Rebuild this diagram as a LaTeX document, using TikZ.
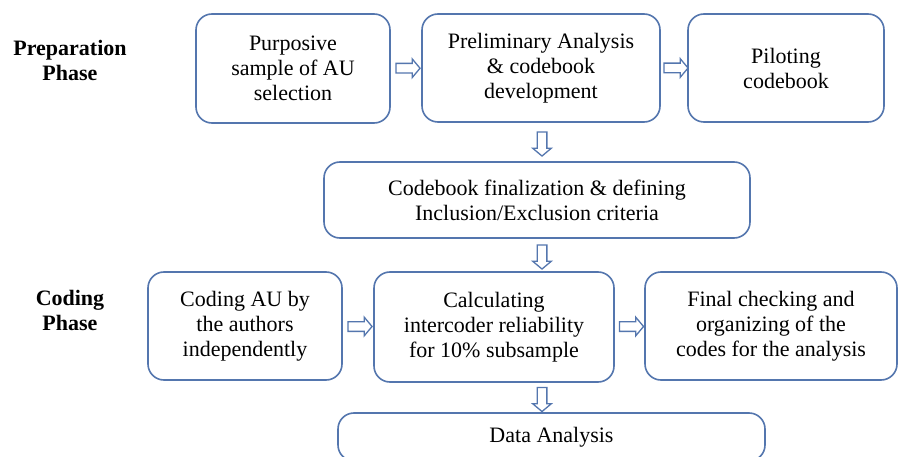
\documentclass[tikz,border=0pt]{standalone}
\usepackage{fontspec}
\setmainfont{Liberation Serif}
\usetikzlibrary{shapes.arrows,calc}
\definecolor{bordblue}{HTML}{5476AE}
\begin{document}
\begin{tikzpicture}[x=1pt,y=-1pt,
  box/.style={draw=bordblue, line width=1.6pt, rounded corners=16pt, align=center,
    font=\fontsize{22}{25}\selectfont, inner sep=0pt, fill=white},
  phase/.style={align=center, font=\fontsize{22}{25}\selectfont\bfseries, inner sep=0pt},
  flowarrow/.style={single arrow, draw=bordblue, line width=1.3pt, fill=white,
    minimum height=24pt, inner sep=4.2pt, single arrow head extend=4.5pt,
    single arrow tip angle=100},
  rightarrow/.style={flowarrow, shape border rotate=0},
  downarrow/.style={flowarrow, shape border rotate=270}]
\useasboundingbox (0,0) rectangle (899,457);
\clip (0,0) rectangle (899,457);
\fill[white] (0,0) rectangle (899,457);

\node[phase] (prep) at (70,60) {Preparation\\Phase};
\node[phase] (codph) at (70,310) {Coding\\Phase};

\node[box, minimum width=194pt, minimum height=109pt] (b1) at (293,68.5) {Purposive\\sample of AU\\selection};
\node[box, minimum width=238pt, minimum height=108pt] (b2) at (541,68) {Preliminary Analysis\\\& codebook\\development};
\node[box, minimum width=196pt, minimum height=108pt] (b3) at (786,68) {Piloting\\codebook};
\node[box, minimum width=426pt, minimum height=76pt] (b4) at (537,200) {Codebook finalization \& defining\\Inclusion/Exclusion criteria};
\node[box, minimum width=194pt, minimum height=108pt] (b5) at (245,326) {Coding AU by\\the authors\\independently};
\node[box, minimum width=240pt, minimum height=110pt] (b6) at (494,327) {Calculating\\intercoder reliability\\for 10\% subsample};
\node[box, minimum width=252pt, minimum height=108pt] (b7) at (771,326) {Final checking and\\organizing of the\\codes for the analysis};
\node[box, minimum width=427pt, minimum height=48pt] (b8) at (551.5,437) {Data Analysis};

\coordinate (m24) at ($(b2.south)!0.5!(b4.north)$);
\coordinate (m46) at ($(b4.south)!0.5!(b6.north)$);
\coordinate (m68) at ($(b6.south)!0.5!(b8.north)$);
\coordinate (axis) at (542,0);

\node[rightarrow] (a12) at ($(b1.east)!0.5!(b2.west)$) {};
\node[rightarrow] (a23) at ($(b2.east)!0.5!(b3.west)$) {};
\node[downarrow] (a24) at (axis |- m24) {};
\node[downarrow] (a46) at (axis |- m46) {};
\node[rightarrow] (a56) at ($(b5.east)!0.5!(b6.west)$) {};
\node[rightarrow] (a67) at ($(b6.east)!0.5!(b7.west)$) {};
\node[downarrow] (a68) at (axis |- m68) {};
\end{tikzpicture}
\end{document}
